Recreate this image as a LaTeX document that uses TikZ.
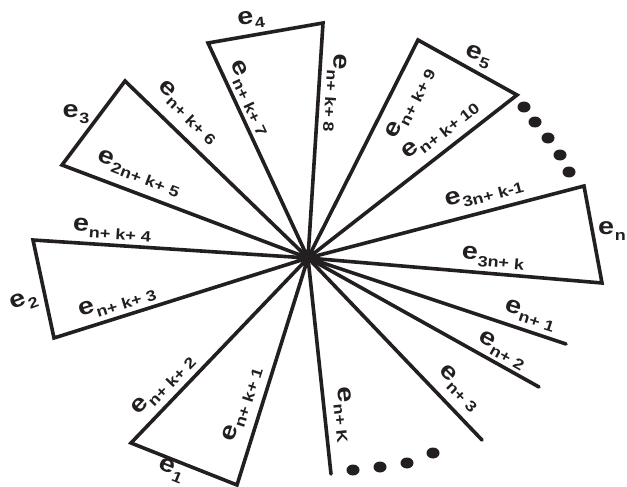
\documentclass[tikz,border=0pt]{standalone}
\usepackage{fontspec}
\setmainfont[FakeStretch=1.2]{Liberation Sans}
\usetikzlibrary{positioning}
\definecolor{ink}{HTML}{231F20}
\newcommand{\esub}[1]{e\kern0.6pt\raisebox{-6pt}{\fontsize{15}{15}\selectfont #1}}

\begin{document}
\begin{tikzpicture}[x=1pt, y=-1pt,
            edge/.style = {draw=ink, line width=3.6pt, line cap=round, miter limit=6},
            lbl/.style = {inner sep=0pt, text=ink, font=\fontsize{24}{24}\selectfont\bfseries},
            dot/.style = {fill=ink},
        ]
            \useasboundingbox (0,0) rectangle (627,487);

            % Hub where all edges meet
            \coordinate (C) at (308,258);

            % Outer corners of the triangles
            \coordinate (t1a) at (131,443); \coordinate (t1b) at (237,485);
            \coordinate (t2a) at (33,240);  \coordinate (t2b) at (54,338);
            \coordinate (t3a) at (62,165);  \coordinate (t3b) at (125,81);
            \coordinate (t4a) at (208,43);  \coordinate (t4b) at (323,23);
            \coordinate (t5a) at (418,40);  \coordinate (t5b) at (517,95);
            \coordinate (tna) at (584,186); \coordinate (tnb) at (602,283);

            % Ends of the open spokes
            \coordinate (s1) at (566,344);
            \coordinate (s2) at (539,387);
            \coordinate (s3) at (482,440);
            \coordinate (sK) at (331,474);

            % Triangles
            \draw[edge] (C) -- (t1a) -- (t1b) -- (C);
            \draw[edge] (C) -- (t2a) -- (t2b) -- (C);
            \draw[edge] (C) -- (t3a) -- (t3b) -- (C);
            \draw[edge] (C) -- (t4a) -- (t4b) -- (C);
            \draw[edge] (C) -- (t5a) -- (t5b) -- (C);
            \draw[edge] (C) -- (tna) -- (tnb) -- (C);

            % Open spokes
            \draw[edge] (C) -- (s1);
            \draw[edge] (C) -- (s2);
            \draw[edge] (C) -- (s3);
            \draw[edge] (C) -- (sK);

            % Dots for the missing parts
            \foreach \p in {(524,107), (535,122), (548,138), (560,155), (569,172),
                            (353,470), (380,467), (407,463), (433,453)}
                \fill[dot] \p ellipse [x radius=6.5, y radius=5.5];

            % Labels of the triangle edges
            \node[lbl, rotate=8] (e4) at (251,20) {\esub{4}};
            \node[lbl, rotate=-65] (enk7) at (250,98) {\esub{n+ k+ 7}};
            \node[lbl, rotate=-94] (enk8) at (335,93) {\esub{n+ k+ 8}};
            \node[lbl] (e3) at (76,114) {\esub{3}};
            \node[lbl, rotate=-44] (enk6) at (188,112) {\esub{n+ k+ 6}};
            \node[lbl, rotate=-21] (e2nk5) at (139,173) {\esub{2n+ k+ 5}};
            \node[lbl, rotate=-4] (enk4) at (112,230) {\esub{n+ k+ 4}};
            \node[lbl, rotate=20] (e2) at (24,302) {\esub{2}};
            \node[lbl, rotate=17] (enk3) at (117,302) {\esub{n+ k+ 3}};
            \node[lbl, rotate=46] (enk2) at (163,385) {\esub{n+ k+ 2}};
            \node[lbl, rotate=72] (enk1) at (242,404) {\esub{n+ k+ 1}};
            \node[lbl, rotate=-22] (e1) at (171,470) {\esub{1}};
            \node[lbl, rotate=15] (e3nk1) at (484,193) {\esub{3n+ k-1}};
            \node[lbl, rotate=-5] (e3nk) at (493,258) {\esub{3n+ k}};
            \node[lbl] (en) at (612,231) {\esub{n}};
            \node[lbl, rotate=38] (enk10) at (440,130) {\esub{n+ k+ 10}};
            \node[lbl, rotate=63] (enk9) at (410,103) {\esub{n+ k+ 9}};
            \node[lbl, rotate=-20] (e5) at (478,57) {\esub{5}};

            % Labels of the open spokes
            \node[lbl, rotate=-18] (en1) at (530,315) {\esub{n+ 1}};
            \node[lbl, rotate=-29] (en2) at (502,350) {\esub{n+ 2}};
            \node[lbl, rotate=-46] (en3) at (459,388) {\esub{n+ 3}};
            \node[lbl, rotate=-84] (enK) at (344,415) {\esub{n+ K}};
        \end{tikzpicture}
\end{document}
